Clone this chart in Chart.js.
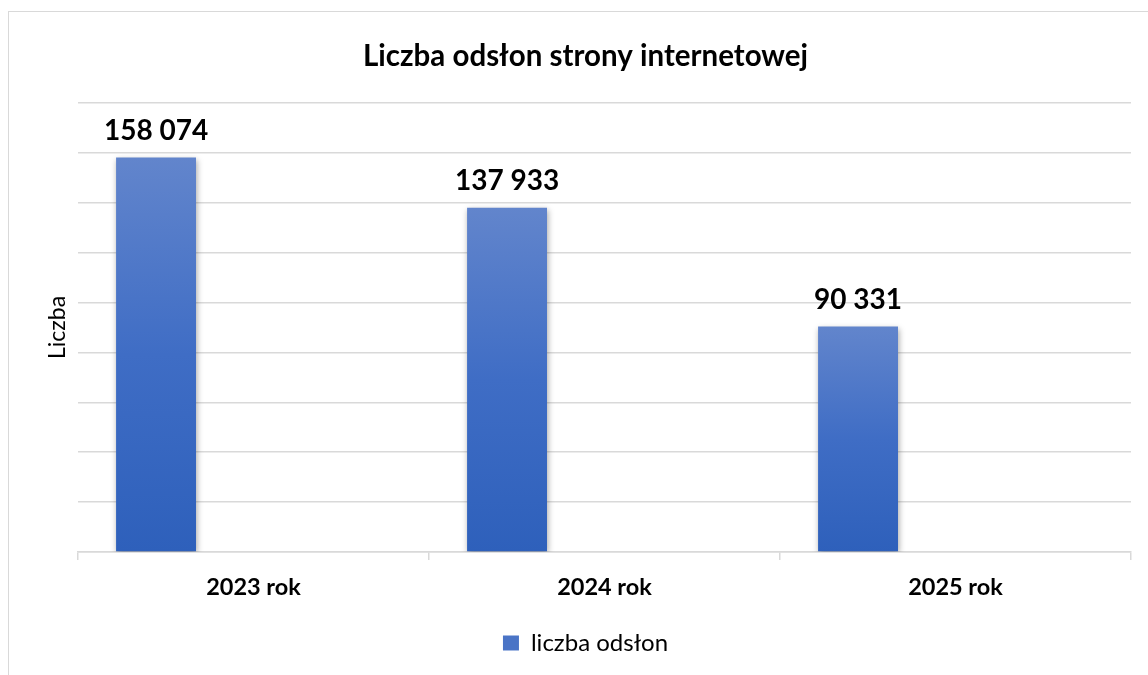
<!DOCTYPE html>
<html lang="pl">
<head>
<meta charset="utf-8">
<script src="https://cdn.jsdelivr.net/npm/chart.js@4.4.1/dist/chart.umd.min.js"></script>
<style>
  html, body { margin: 0; padding: 0; background: #fff; overflow: hidden; }
  #wrap { position: relative; width: 1148px; height: 675px; }
  #frame { position: absolute; left: 8px; top: 11px; width: 1200px; height: 700px; border: 1.5px solid #d9d9d9; }
  canvas { position: absolute; left: 0; top: 0; }
</style>
</head>
<body>
<div id="wrap">
  <div id="frame"></div>
  <canvas id="chart" width="1148" height="675"></canvas>
</div>
<script>
const categories = ['2023 rok', '2024 rok', '2025 rok'];
const pageViews = [158074, 137933, 90331];
const emptySeries = [null, null, null];
const seriesName = 'liczba odsłon';
const yMax = 180000;
const yStep = 20000;

const FONT = 'Lato, "Open Sans", sans-serif';

function formatNum(v) {
    return String(v).replace(/\B(?=(\d{3})+(?!\d))/g, ' ');
}

// gradient per bar, lighter at the top
function barGradient(context) {
    const chart = context.chart;
    if (!chart.chartArea || context.type !== 'data' || context.raw == null) return '#4a74c6';
    const y = chart.scales.y;
    const top = y.getPixelForValue(context.raw);
    const bottom = y.getPixelForValue(0);
    const g = chart.ctx.createLinearGradient(0, top, 0, bottom);
    g.addColorStop(0, '#6285cc');
    g.addColorStop(0.5, '#3f6dc5');
    g.addColorStop(1, '#2e60bb');
    return g;
}

const barShadow = {
    id: 'barShadow',
    beforeDatasetDraw(chart, args) {
        if (args.index !== 0) return;
        const c = chart.ctx;
        c.save();
        c.shadowColor = 'rgba(0,0,0,0.35)';
        c.shadowBlur = 6;
        c.shadowOffsetX = 1;
        c.shadowOffsetY = 2;
    },
    afterDatasetDraw(chart, args) {
        if (args.index !== 0) return;
        chart.ctx.restore();
    }
};

const valueLabels = {
    id: 'valueLabels',
    afterDatasetsDraw(chart) {
        const ctx = chart.ctx;
        const meta = chart.getDatasetMeta(0);
        ctx.save();
        ctx.font = 'bold 28px ' + FONT;
        ctx.fillStyle = '#000';
        ctx.textAlign = 'center';
        ctx.textBaseline = 'middle';
        meta.data.forEach((bar, i) => {
            ctx.fillText(formatNum(pageViews[i]), bar.x, bar.y - 27);
        });
        ctx.restore();
    }
};

const ctx = document.getElementById('chart').getContext('2d');
const chart = new Chart(ctx, {
    type: 'bar',
    data: {
        labels: categories,
        datasets: [
            { label: seriesName, data: pageViews, backgroundColor: barGradient },
            { label: '', data: emptySeries },
            { label: '', data: emptySeries }
        ]
    },
    options: {
        responsive: false,
        animation: false,
        categoryPercentage: 0.833,
        barPercentage: 0.82,
        layout: { padding: { left: 40, right: 17, top: 0, bottom: 10 } },
        plugins: {
            title: {
                display: true,
                text: 'Liczba odsłon strony internetowej',
                color: '#000',
                font: { family: FONT, size: 29.5, weight: 'bold' },
                padding: { top: 39, bottom: 28.5 }
            },
            legend: {
                position: 'bottom',
                labels: {
                    color: '#000',
                    font: { family: FONT, size: 24 },
                    boxWidth: 16,
                    boxHeight: 15,
                    padding: 10,
                    generateLabels: () => [{
                        text: seriesName,
                        fillStyle: '#4a74c6',
                        strokeStyle: '#4a74c6',
                        lineWidth: 0,
                        datasetIndex: 0
                    }]
                }
            },
            tooltip: { enabled: false }
        },
        scales: {
            x: {
                grid: {
                    display: true,
                    drawOnChartArea: false,
                    tickLength: 8,
                    color: '#d9d9d9',
                    lineWidth: 1.5
                },
                border: { color: '#d9d9d9', width: 1.5 },
                ticks: {
                    color: '#000',
                    padding: 13,
                    font: { family: FONT, size: 23.5, weight: 'bold' }
                },
                afterFit(scale) { scale.height = 69; }
            },
            y: {
                min: 0,
                max: yMax,
                ticks: { display: false, stepSize: yStep },
                grid: { color: '#d9d9d9', lineWidth: 1.5, drawTicks: false },
                border: { display: false },
                title: {
                    display: true,
                    text: 'Liczba',
                    color: '#000',
                    font: { family: FONT, size: 23 }
                },
                afterFit(scale) { scale.width = 38; }
            }
        }
    },
    plugins: [barShadow, valueLabels]
});
</script>
</body>
</html>
